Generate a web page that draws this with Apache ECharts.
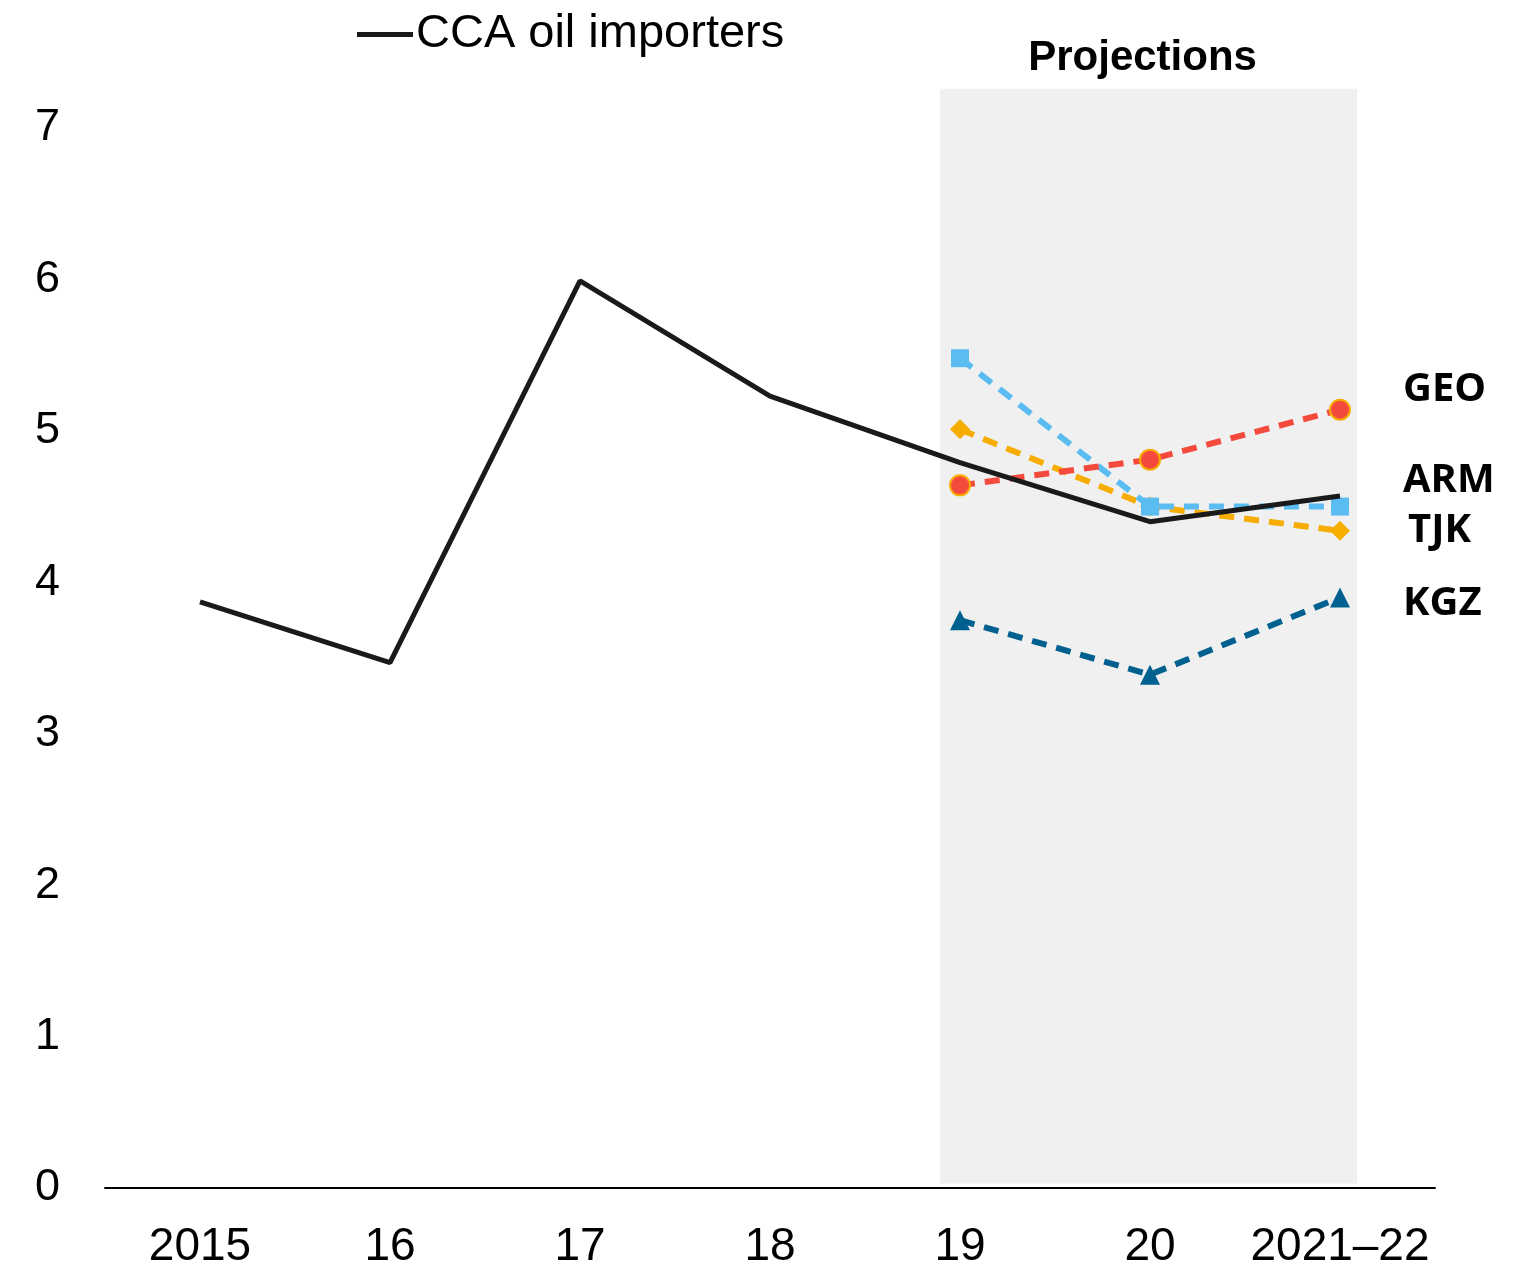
<!DOCTYPE html>
<html>
<head>
<meta charset="utf-8">
<script src="https://cdn.jsdelivr.net/npm/echarts@6/dist/echarts.min.js"></script>
<style>
  html, body { margin: 0; padding: 0; background: #fff; }
  #chart { width: 1531px; height: 1270px; }
</style>
</head>
<body>
<div id="chart"></div>
<script>
  // data
  var years = ['2015', '16', '17', '18', '19', '20', '2021\u201322'];
  var ccaOil = [3.87, 3.47, 5.99, 5.23, 4.79, 4.40, 4.57];
  var geo = [null, null, null, null, 4.64, 4.81, 5.14];
  var arm = [null, null, null, null, 5.48, 4.50, 4.50];
  var tjk = [null, null, null, null, 5.01, 4.50, 4.34];
  var kgz = [null, null, null, null, 3.75, 3.39, 3.90];
  var yTicks = [0, 1, 2, 3, 4, 5, 6, 7];

  var arial = '"Liberation Sans", Arial, sans-serif';
  var sideFont = '"Open Sans", "Noto Sans", sans-serif';

  // dashed country series with a label at the end
  function country(name, data, color, symbol, size, off, border) {
    return {
      name: name,
      type: 'line',
      data: data,
      symbol: symbol,
      symbolSize: size,
      showSymbol: true,
      connectNulls: false,
      lineStyle: { color: color, width: 6, type: [15, 10] },
      itemStyle: { color: color, borderColor: border || color, borderWidth: border ? 2 : 0 },
      endLabel: {
        show: true,
        formatter: name,
        color: '#000',
        fontFamily: sideFont,
        fontWeight: 'bold',
        fontSize: 40,
        distance: 5,
        offset: off
      },
      z: 3
    }
  }

  var chart = echarts.init(document.getElementById('chart'))
  chart.setOption({
    animation: false,
    backgroundColor: '#fff',
    grid: { left: 105, right: 96, top: 128, bottom: 82 },
    legend: {
      data: ['CCA oil importers'],
      left: 352,
      top: 6,
      icon: 'rect',
      itemWidth: 56,
      itemHeight: 5,
      itemGap: 4,
      textStyle: { fontFamily: arial, fontSize: 47, color: '#000', padding: [0, 0, 0, -2] }
    },
    xAxis: {
      type: 'category',
      data: years,
      boundaryGap: true,
      axisLine: { lineStyle: { color: '#000', width: 2 } },
      axisTick: { show: false },
      axisLabel: { interval: 0, fontFamily: arial, fontSize: 46, color: '#000', margin: 36 }
    },
    yAxis: {
      type: 'value',
      min: yTicks[0],
      max: yTicks[yTicks.length - 1],
      interval: 1,
      splitLine: { show: false },
      axisLine: { show: false },
      axisTick: { show: false },
      axisLabel: { fontFamily: arial, fontSize: 45, color: '#000', margin: 45 }
    },
    series: [
      country('KGZ', kgz, '#00608f', 'triangle', 20, [58, 6]),
      country('TJK', tjk, '#f7ac00', 'diamond', 20, [63, 0]),
      country('ARM', arm, '#5bbcf2', 'rect', 18, [58, -26]),
      country('GEO', geo, '#f44a3d', 'circle', 20, [58, -20], '#f7ac00'),
      {
        name: 'CCA oil importers',
        type: 'line',
        data: ccaOil,
        symbol: 'none',
        lineStyle: { color: '#1a1a1a', width: 5 },
        itemStyle: { color: '#1a1a1a' },
        z: 4
      }
    ]
  });

  // grey projections band behind the lines, placed through the axes
  var p19 = chart.convertToPixel({ xAxisIndex: 0 }, years[4]);
  var pEnd = chart.convertToPixel({ xAxisIndex: 0 }, years[6]);
  var step = (pEnd - p19) / 2;
  var yTop = chart.convertToPixel({ yAxisIndex: 0 }, 7.26);
  var yBot = chart.convertToPixel({ yAxisIndex: 0 }, 0.03);
  var bandL = p19 - 0.105 * step;
  var bandR = pEnd + 0.09 * step;
  chart.setOption({
    graphic: [
      {
        type: 'rect',
        z: -1,
        silent: true,
        shape: { x: bandL, y: yTop, width: bandR - bandL, height: yBot - yTop },
        style: { fill: '#f0f0f0' }
      },
      {
        type: 'text',
        x: (bandL + bandR) / 2 - 6,
        y: yTop - 30,
        style: {
          text: 'Projections',
          fill: '#000',
          font: 'bold 42px ' + arial,
          textAlign: 'center',
          textVerticalAlign: 'middle'
        }
      }
    ]
  });
</script>
</body>
</html>
